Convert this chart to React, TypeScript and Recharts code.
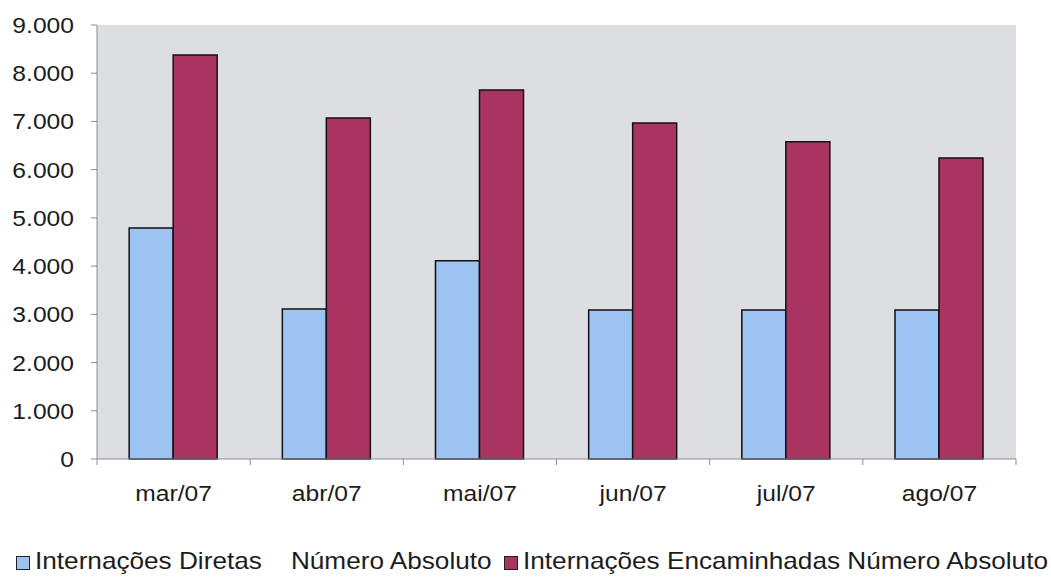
import React from "react";
import {
  BarChart,
  Bar,
  XAxis,
  YAxis,
  CartesianGrid,
} from "recharts";

const months = ["mar/07", "abr/07", "mai/07", "jun/07", "jul/07", "ago/07"];
const diretas = [4790, 3110, 4110, 3090, 3090, 3090];
const encaminhadas = [8380, 7070, 7650, 6970, 6580, 6240];
const yTicks = [0, 1000, 2000, 3000, 4000, 5000, 6000, 7000, 8000, 9000];
const seriesNames = [
  "Internações Diretas    Número Absoluto",
  "Internações Encaminhadas Número Absoluto",
];

const data = months.map((m, i) => ({
  month: m,
  diretas: diretas[i],
  encaminhadas: encaminhadas[i],
}));

const W = 1051;
const H = 577;
const MARGIN = { top: 25, right: 35, left: 7, bottom: 78 };
const Y_W = 90;
const BAND = (W - MARGIN.left - MARGIN.right - Y_W) / months.length;
const STRETCH = 1.12;
const FONT = "'Liberation Sans', Arial, sans-serif";

const BLUE = "#9dc3f2";
const RED = "#a93462";
const AXIS = "#8c8c8c";
const TEXT = "#1c1c1c";

const fmt = (v: number) =>
  v === 0 ? "0" : `${Math.floor(v / 1000)}.${String(v % 1000).padStart(3, "0")}`;

// category label centered, tick marks on the category boundaries
const XTick = (props: any) => {
  const { x, y, payload, index } = props;
  const left = x - BAND / 2;
  const right = x + BAND / 2;
  return (
    <g>
      <line x1={left} y1={y} x2={left} y2={y + 6} stroke={AXIS} />
      {index === months.length - 1 && (
        <line x1={right} y1={y} x2={right} y2={y + 6} stroke={AXIS} />
      )}
      <text
        transform={`translate(${x},${y + 42}) scale(${STRETCH},1)`}
        textAnchor="middle"
        fontSize={22}
        fill={TEXT}
        fontFamily={FONT}
      >
        {payload.value}
      </text>
    </g>
  );
};

const YTick = (props: any) => {
  const { x, y, payload } = props;
  return (
    <text
      transform={`translate(${x},${y + 8}) scale(${STRETCH},1)`}
      textAnchor="end"
      fontSize={22}
      fill={TEXT}
      fontFamily={FONT}
    >
      {fmt(payload.value)}
    </text>
  );
};

const LegendItem: React.FC<{ color: string; label: string; left: number }> = ({
  color,
  label,
  left,
}) => (
  <>
    <span
      style={{
        position: "absolute",
        left,
        top: 556,
        width: 12,
        height: 12,
        background: color,
        border: "1px solid #222",
      }}
    />
    <span
      style={{
        position: "absolute",
        left: left + 19,
        top: 549,
        fontSize: 24,
        lineHeight: "24px",
        color: TEXT,
        whiteSpace: "pre",
        transform: "scaleX(1.09)",
        transformOrigin: "left center",
      }}
    >
      {label}
    </span>
  </>
);

export default function App() {
  return (
    <div
      style={{
        position: "absolute",
        left: 0,
        top: 0,
        width: W,
        height: H,
        background: "#ffffff",
        fontFamily: FONT,
      }}
    >
      <BarChart
        width={W}
        height={H}
        data={data}
        margin={MARGIN}
        barCategoryGap="21%"
        barGap={0}
      >
        <CartesianGrid
          horizontal={false}
          vertical={false}
          fill="#dcdee1"
          xAxisId="main"
          yAxisId="main"
        />
        <XAxis
          xAxisId="main"
          dataKey="month"
          height={40}
          axisLine={{ stroke: AXIS }}
          tickLine={false}
          tickSize={0}
          tickMargin={0}
          tick={<XTick />}
          interval={0}
        />
        <XAxis
          xAxisId="top"
          orientation="top"
          dataKey="month"
          height={0}
          tick={false}
          tickLine={false}
          axisLine={{ stroke: "#b4b4b6" }}
        />
        <YAxis
          yAxisId="main"
          width={Y_W}
          domain={[0, 9000]}
          ticks={yTicks}
          interval={0}
          axisLine={{ stroke: AXIS }}
          tickLine={{ stroke: AXIS }}
          tickSize={6}
          tickMargin={17}
          tick={<YTick />}
        />
        <YAxis
          yAxisId="right"
          orientation="right"
          width={0}
          domain={[0, 9000]}
          tick={false}
          tickLine={false}
          axisLine={{ stroke: "#b4b4b6" }}
        />
        <Bar
          xAxisId="main"
          yAxisId="main"
          dataKey="diretas"
          name={seriesNames[0]}
          fill={BLUE}
          stroke="#111"
          strokeWidth={1.5}
          isAnimationActive={false}
        />
        <Bar
          xAxisId="main"
          yAxisId="main"
          dataKey="encaminhadas"
          name={seriesNames[1]}
          fill={RED}
          stroke="#111"
          strokeWidth={1.5}
          isAnimationActive={false}
        />
      </BarChart>
      <LegendItem color={BLUE} label={seriesNames[0]} left={16} />
      <LegendItem color={RED} label={seriesNames[1]} left={504} />
    </div>
  );
}
